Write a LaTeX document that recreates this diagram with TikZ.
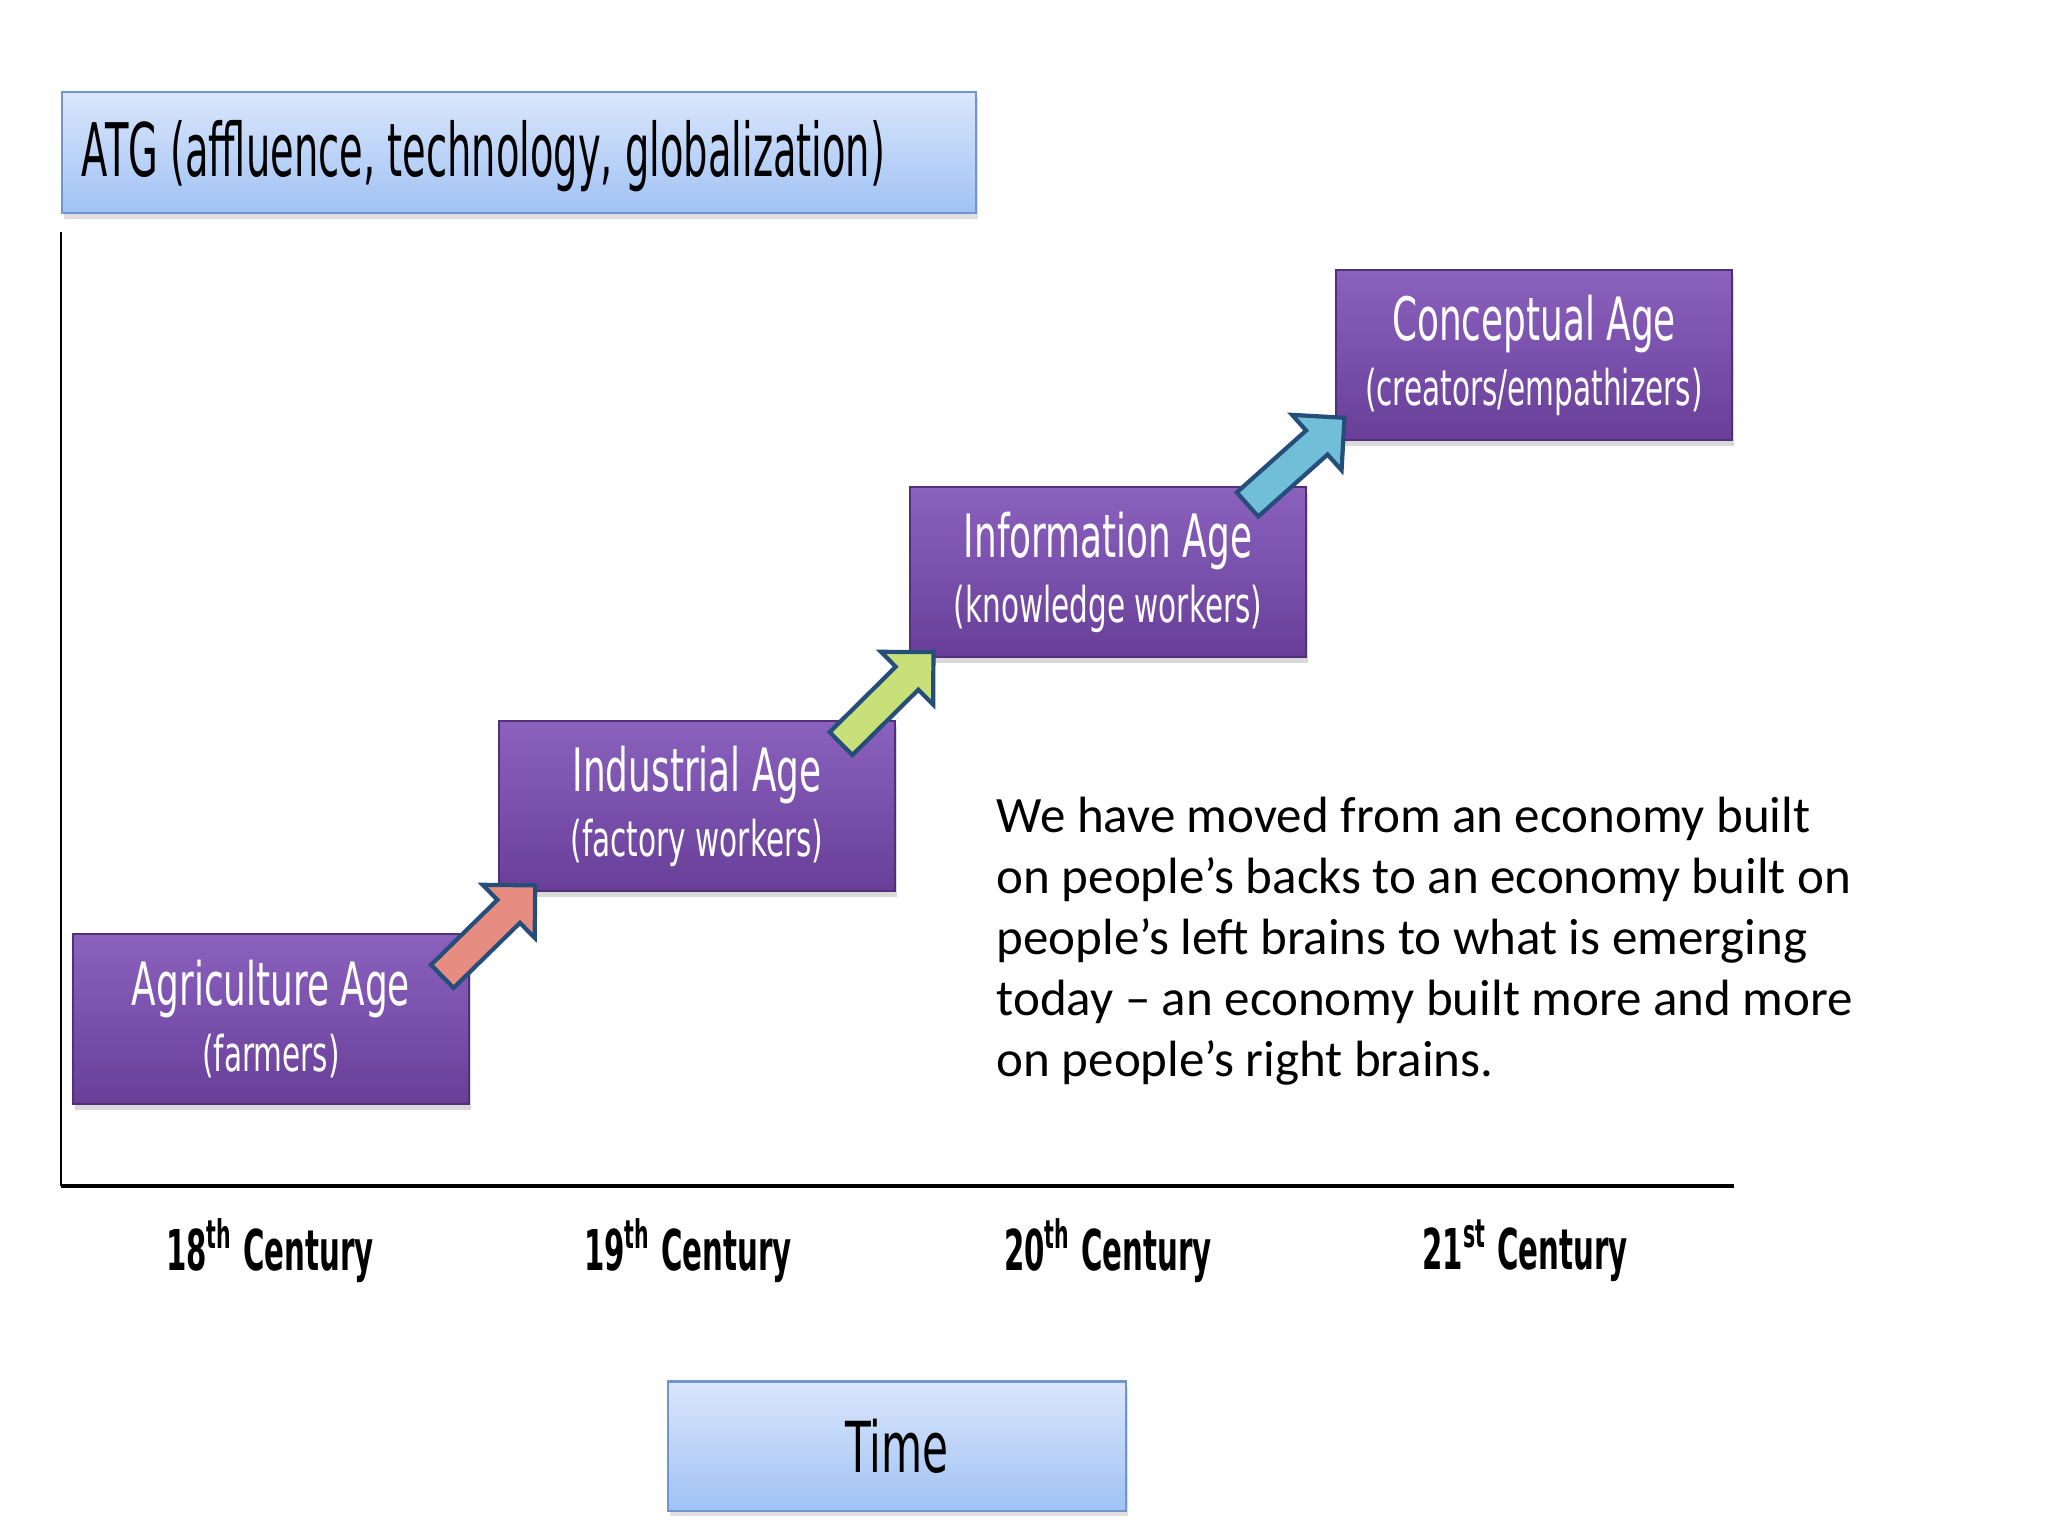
\documentclass[tikz,border=0pt]{standalone}
\usepackage{fontspec}
\setmainfont{Carlito}
\newfontfamily\comicfont[FakeStretch=0.6]{DejaVu Sans}
\newfontfamily\comictight[FakeStretch=0.52]{DejaVu Sans}
\usetikzlibrary{positioning,calc,shapes.arrows,shadows}

\definecolor{agetop}{RGB}{138,98,190}
\definecolor{agebottom}{RGB}{104,62,152}
\definecolor{ageedge}{RGB}{82,48,120}
\definecolor{skytop}{RGB}{218,230,251}
\definecolor{skybottom}{RGB}{160,194,244}
\definecolor{skyedge}{RGB}{112,150,205}
\definecolor{arrowedge}{RGB}{38,78,122}
\definecolor{salmon}{RGB}{230,140,128}
\definecolor{lime}{RGB}{200,224,120}
\definecolor{aqua}{RGB}{112,190,216}

\begin{document}
\begin{tikzpicture}[x=0.01cm, y=-0.01cm,
    agebox/.style={
        draw=ageedge, line width=0.6pt,
        top color=agetop, bottom color=agebottom,
        minimum width=3.95cm, minimum height=1.70cm,
        align=center, text=white,
        font=\comicfont\fontsize{17}{18.5}\selectfont,
        drop shadow={opacity=0.3, shadow xshift=0.6pt, shadow yshift=-1.6pt}
    },
    skybox/.style={
        draw=skyedge, line width=0.6pt,
        top color=skytop, bottom color=skybottom,
        drop shadow={opacity=0.25, shadow xshift=0.6pt, shadow yshift=-1.6pt}
    },
    stepup/.style={
        single arrow, draw=arrowedge, line width=1.2pt,
        minimum height=1.30cm, minimum width=0pt,
        inner xsep=0pt, inner ysep=0.14cm,
        single arrow head extend=0.21cm,
        sloped, pos=0.5
    },
    century/.style={font=\comictight\bfseries\fontsize{16}{20}\selectfont}
]
\useasboundingbox (0,0) rectangle (2048,1536);

% axes
\draw[line width=0.8pt] (61,232) -- (61,1186);
\draw[line width=1.1pt] (61,1186) -- (1734,1186);

% header and time boxes
\node[skybox, anchor=north west, minimum width=9.13cm, minimum height=1.21cm]
    (atg) at (61,91) {};
\node[anchor=west, inner sep=0pt, font=\comictight\fontsize{21}{24}\selectfont]
    (atgtext) at ([xshift=0.2cm, yshift=-0.04cm]atg.west) {ATG (affluence, technology, globalization)};
\node[skybox, minimum width=4.57cm, minimum height=1.29cm,
      font=\comicfont\fontsize{20}{24}\selectfont]
    (time) at (897,1446) {Time};

% the four ages
\node[agebox] (agri) at (271,1019)
    {Agriculture Age\\{\fontsize{14}{16}\selectfont (farmers)}};
\node[agebox] (ind) at (697,806)
    {Industrial Age\\{\fontsize{14}{16}\selectfont (factory workers)}};
\node[agebox] (info) at (1108,572)
    {Information Age\\{\fontsize{14}{16}\selectfont (knowledge workers)}};
\node[agebox] (concept) at (1534,355)
    {Conceptual Age\\{\fontsize{14}{16}\selectfont (creators/empathizers)}};

% steps between ages
\path ($(agri.north east)+(-32,48)$) -- ($(ind.south west)+(30,0)$)
    node[stepup, fill=salmon] {};
\path ($(ind.north east)+(-57,26)$) -- ($(info.south west)+(15,3)$)
    node[stepup, fill=lime] {};
\path ($(info.north east)+(-63,22)$) -- ($(concept.south west)+(1,-16)$)
    node[stepup, fill=aqua] {};

% centuries
\node[century] (c18) at (270,1251) {18\textsuperscript{th} Century};
\node[century] (c19) at (688,1251) {19\textsuperscript{th} Century};
\node[century] (c20) at (1108,1251) {20\textsuperscript{th} Century};
\node[century] (c21) at (1525,1251) {21\textsuperscript{st} Century};

% note
\node[anchor=north west, align=left, inner sep=0pt,
      font=\fontsize{14.5}{17.4}\selectfont] (note) at (996,796)
    {We have moved from an economy built\\
     on people’s backs to an economy built on\\
     people’s left brains to what is emerging\\
     today -- an economy built more and more\\
     on people’s right brains.};
\end{tikzpicture}
\end{document}
